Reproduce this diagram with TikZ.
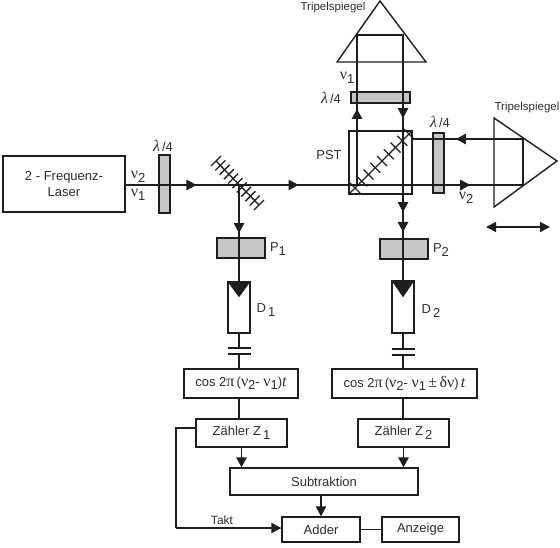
\documentclass[tikz,border=0pt]{standalone}
\usepackage{fontspec}
\setmainfont{Liberation Sans}
\newfontfamily\gk{Liberation Serif}
\usetikzlibrary{arrows.meta,decorations.markings,calc}
\definecolor{ink}{HTML}{1E1E1E}
\definecolor{txt}{HTML}{2E2E2E}
\definecolor{plate}{HTML}{C6C6C6}
\newcommand{\nus}[1]{{\gk\fontsize{16}{16}\selectfont ν}\raisebox{-3.5pt}{#1}}
\newcommand{\sbs}[1]{\raisebox{-3.5pt}{#1}}
\newcommand{\gkk}[1]{{\gk\fontsize{16}{16}\selectfont #1}}
\newcommand{\lamq}{{\gk\itshape\fontsize{16}{16}\selectfont λ}\,/4}
\tikzset{
  box/.style={draw=ink,line width=1.5pt,fill=white,inner sep=0pt,align=center,text=txt},
  filter/.style={draw=ink,line width=1.3pt,fill=plate,inner sep=0pt},
  lab/.style={text=txt,inner sep=0pt},
  beam/.style={draw=ink,line width=1.4pt},
  wire/.style={draw=ink,line width=1.3pt},
  capline/.style={draw=ink,line width=1.7pt},
  beamtip/.style={postaction={decorate,decoration={markings,mark=at position #1 with {\arrow[ink]{Triangle[length=10pt,width=10.5pt]}}}}},
  tip/.style={-{Triangle[length=10pt,width=10.5pt]}},
  hatch/.style={draw=ink,line width=1.3pt},
  tri/.style={draw=ink,line width=1.4pt,line join=miter},
}
\begin{document}
\begin{tikzpicture}[x=1pt,y=-1pt,font=\fontsize{13}{15}\selectfont]
\useasboundingbox (0,0) rectangle (560,547);
% triple mirrors
\coordinate (ta) at (380,1);
\coordinate (tl) at (337,62);
\coordinate (tr) at (426,62);
\draw[tri] (ta) -- (tl) -- (tr) -- cycle;
\coordinate (ra) at (557,161);
\coordinate (ru) at (494,118);
\coordinate (rd) at (494,207);
\draw[tri] (ra) -- (ru) -- (rd) -- cycle;
% filters
\node[filter,minimum width=11pt,minimum height=58pt] (L1) at (164.5,184) {};
\node[filter,minimum width=59pt,minimum height=11pt] (L2) at (380.5,97.5) {};
\node[filter,minimum width=11pt,minimum height=60pt] (L3) at (438.5,163) {};
\node[filter,minimum width=48pt,minimum height=20pt] (P1) at (241,248) {};
\node[filter,minimum width=48pt,minimum height=20pt] (P2) at (404,249) {};
% boxes
\node[box,minimum width=122pt,minimum height=56pt] (laser) at (64,184) {2 - Frequenz-\\[1pt]Laser};
\node[draw=ink,line width=1.4pt,minimum size=63pt,inner sep=0pt] (pst) at (380.5,162.5) {};
\node[box,minimum width=22pt,minimum height=51pt] (D1) at (239,307.5) {};
\node[box,minimum width=22pt,minimum height=52pt] (D2) at (403,307) {};
\node[box,minimum width=114pt,minimum height=29pt] (cos1) at (241,383.5) {cos 2\gkk{π}\,(\gkk{ν}\sbs{2}- \gkk{ν}\sbs{1}){\gk\itshape\fontsize{16}{16}\selectfont t}};
\node[box,minimum width=145pt,minimum height=29pt] (cos2) at (404.5,383.5) {cos 2\gkk{π}\,(\gkk{ν}\sbs{2}- \gkk{ν}\sbs{1}\,\gkk{±\,δν})\,{\gk\itshape\fontsize{16}{16}\selectfont t}};
\node[box,minimum width=91pt,minimum height=28pt] (Z1) at (241.5,433) {Zähler Z\,\sbs{1}};
\node[box,minimum width=91pt,minimum height=28pt] (Z2) at (403.5,433) {Zähler Z\,\sbs{2}};
\node[box,minimum width=188pt,minimum height=27pt] (sub) at (324,481.5) {Subtraktion};
\node[box,minimum width=78pt,minimum height=25pt] (add) at (321,529.5) {Adder};
\node[box,minimum width=77pt,minimum height=25pt] (anz) at (420.5,529.5) {Anzeige};
% photodiode triangles
\fill[ink] (D1.north west) -- (D1.north east) -- ($(D1.north)+(0,16)$) -- cycle;
\fill[ink] (D2.north west) -- (D2.north east) -- ($(D2.north)+(0,17)$) -- cycle;
% junction points
\coordinate (m1) at (239,185);
\coordinate (r1) at (523,185);
\coordinate (r2) at (523,139);
\coordinate (s1) at (357,185);
\coordinate (s2) at (357,35);
\coordinate (s3) at (403,35);
\coordinate (dt2) at (403,282);
\coordinate (dt1) at (239,282);
\coordinate (ps) at (412,139);
% beams
\path[beam,beamtip=.178,beamtip=.435,beamtip=.867] (laser.east |- m1) -- (r1);
\path[beam,beamtip=.72] (r1) -- (r2) -- (ps);
\path[beam,beamtip=.1716,beamtip=.63,beamtip=.842,beamtip=.887] (s1) -- (s2) -- (s3) -- (dt2);
\path[beam,beamtip=.495] (m1) -- (dt1);
% main mirror
\coordinate (ma) at (216,161);
\coordinate (mb) at (259,205);
\draw[hatch] (ma) -- (mb);
\foreach \t in {0,1,...,10} {
  \draw[hatch] ($(ma)!\t/10!(mb)+(5,-5)$) -- ($(ma)!\t/10!(mb)+(-5,5)$);
}
% beam splitter
\draw[hatch] (pst.south west) -- (pst.north east);
\foreach \t in {0,1,...,8} {
  \draw[hatch] ($(355,188)!\t/8!(409,134)+(-5,-5)$) -- ($(355,188)!\t/8!(409,134)+(5,5)$);
}
% detector wiring
\coordinate (c1t) at (239,348);
\coordinate (c1b) at (239,354);
\coordinate (c2t) at (403,349);
\coordinate (c2b) at (403,355);
\draw[wire] (D1.south) -- (c1t);
\draw[wire] (c1b) -- (c1b |- cos1.north);
\draw[capline] ([xshift=-11.5pt]c1t) -- ([xshift=11.5pt]c1t);
\draw[capline] ([xshift=-11.5pt]c1b) -- ([xshift=11.5pt]c1b);
\draw[wire] (D2.south) -- (c2t);
\draw[wire] (c2b) -- (c2b |- cos2.north);
\draw[capline] ([xshift=-11.5pt]c2t) -- ([xshift=11.5pt]c2t);
\draw[capline] ([xshift=-11.5pt]c2b) -- ([xshift=11.5pt]c2b);
\draw[wire] (cos1.south -| c1t) -- (Z1.north -| c1t);
\draw[wire] (cos2.south -| c2t) -- (Z2.north -| c2t);
\draw[wire,tip] (Z1.south) -- (Z1.south |- sub.north);
\draw[wire,tip] (Z2.south) -- (Z2.south |- sub.north);
\draw[wire,tip] (sub.south -| add.north) -- (add.north);
\coordinate (tk1) at (176,428);
\coordinate (tk2) at (176,528);
\draw[wire] (Z1.west |- tk1) -- (tk1) -- (tk2);
\draw[wire,tip] (tk2) -- (add.west |- tk2);
\draw[wire] (add.east) -- (anz.west);
% double arrow
\coordinate (da) at (486,227);
\coordinate (db) at (550,227);
\draw[wire,line width=1.4pt,{Triangle[length=10pt,width=10pt]}-{Triangle[length=10pt,width=10pt]}] (da) -- (db);
% labels
\node[lab] (t1) at (333,8) {\fontsize{11.5}{13}\selectfont Tripelspiegel};
\node[lab] (t2) at (527,108) {\fontsize{11.5}{13}\selectfont Tripelspiegel};
\node[lab] (n21) at (138,177) {\nus{2}};
\node[lab] (n11) at (138,195) {\nus{1}};
\node[lab] (n12) at (347,78) {\nus{1}};
\node[lab] (n22) at (466,198) {\nus{2}};
\node[lab] (l1) at (163,146) {\lamq};
\node[lab] (l2) at (331,98) {\lamq};
\node[lab] (l3) at (440,122) {\lamq};
\node[lab] (pstl) at (329,155) {PST};
\node[lab] (p1l) at (278,249) {P\sbs{1}};
\node[lab] (p2l) at (441,250) {P\sbs{2}};
\node[lab] (d1l) at (266,310) {D\,\sbs{1}};
\node[lab] (d2l) at (431,311) {D\,\sbs{2}};
\node[lab] (takt) at (222,520) {\fontsize{12}{14}\selectfont Takt};
\end{tikzpicture}
\end{document}
